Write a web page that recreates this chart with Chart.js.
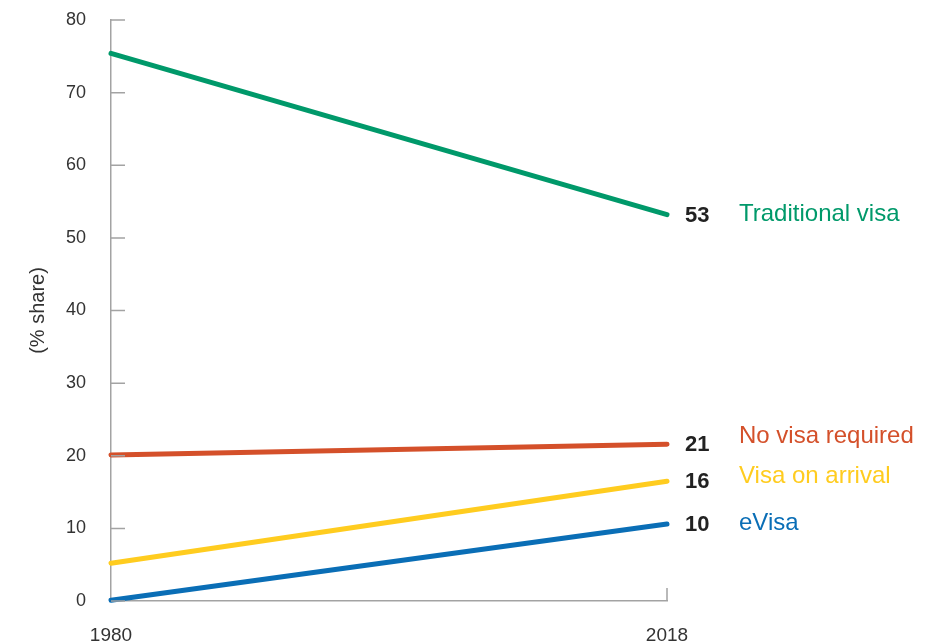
<!DOCTYPE html>
<html>
<head>
<meta charset="utf-8">
<script src="https://cdn.jsdelivr.net/npm/chart.js@4"></script>
<style>
  html, body { margin: 0; padding: 0; background: #ffffff; }
  #wrap { width: 937px; height: 643px; position: relative; }
</style>
</head>
<body>
<div id="wrap"><canvas id="c" width="937" height="643"></canvas></div>
<script>
// ---- data ----
const years = [1980, 2018];
const seriesNames = ["Traditional visa", "No visa required", "Visa on arrival", "eVisa"];
const traditionalVisa = [75.4, 53.2];
const noVisaRequired = [20.1, 21.6];
const visaOnArrival = [5.2, 16.5];
const eVisa = [0.1, 10.6];
const endLabels = ["53", "21", "16", "10"];
const yTicks = [0, 10, 20, 30, 40, 50, 60, 70, 80];

// ---- style ----
const colors = ["#00996A", "#D4502A", "#FFCC1F", "#0A6EB6"];
const nameOffsets = [0, -8, -5, -1];
const FONT = "'Liberation Sans', Arial, Helvetica, sans-serif";
const AXIS_COLOR = "#a3a3a3";

const seriesValues = [traditionalVisa, noVisaRequired, visaOnArrival, eVisa];

const datasets = seriesValues.map((vals, i) => ({
  label: seriesNames[i],
  data: years.map((y, j) => ({ x: y, y: vals[j] })),
  borderColor: colors[i],
  backgroundColor: colors[i],
  borderWidth: 5,
  borderCapStyle: 'round',
  pointRadius: 0,
  pointHoverRadius: 0,
  tension: 0,
  clip: false
}));

const tickMarks = {
  id: 'tickMarks',
  afterDraw(chart) {
    const ctx = chart.ctx;
    const ys = chart.scales.y, xs = chart.scales.x;
    const area = chart.chartArea;
    ctx.save();
    ctx.strokeStyle = AXIS_COLOR;
    ctx.lineWidth = 1.5;
    ctx.beginPath();
    yTicks.forEach(v => {
      const py = ys.getPixelForValue(v);
      ctx.moveTo(area.left, py);
      ctx.lineTo(area.left + 14, py);
    });
    const px = xs.getPixelForValue(years[years.length - 1]);
    ctx.moveTo(px, area.bottom);
    ctx.lineTo(px, area.bottom - 13);
    ctx.stroke();
    ctx.restore();
  }
};

const endLabelPlugin = {
  id: 'endLabels',
  afterDatasetsDraw(chart) {
    const ctx = chart.ctx;
    const ys = chart.scales.y;
    const area = chart.chartArea;
    ctx.save();
    ctx.textBaseline = 'middle';
    ctx.textAlign = 'left';
    seriesValues.forEach((vals, i) => {
      const py = ys.getPixelForValue(vals[vals.length - 1]);
      ctx.font = "bold 22px " + FONT;
      ctx.fillStyle = "#222222";
      ctx.fillText(endLabels[i], area.right + 18, py + 1);
      ctx.font = "24px " + FONT;
      ctx.fillStyle = colors[i];
      ctx.fillText(seriesNames[i], area.right + 72, py + nameOffsets[i]);
    });
    ctx.restore();
  }
};

new Chart(document.getElementById('c'), {
  type: 'line',
  data: { datasets },
  options: {
    responsive: false,
    animation: false,
    events: [],
    layout: { padding: { top: 20, right: 270, bottom: 0, left: 0 } },
    plugins: {
      legend: { display: false },
      tooltip: { enabled: false },
      title: { display: false }
    },
    scales: {
      x: {
        type: 'linear',
        min: years[0],
        max: years[years.length - 1],
        afterBuildTicks: s => { s.ticks = years.map(v => ({ value: v })); },
        afterFit: s => { s.height = 42; s.paddingLeft = 0; s.paddingRight = 0; },
        grid: { drawOnChartArea: false, drawTicks: false },
        border: { display: true, color: AXIS_COLOR, width: 1.5 },
        ticks: {
          padding: 23,
          color: "#333333",
          font: { family: FONT, size: 19 },
          callback: v => String(v),
          maxRotation: 0,
          autoSkip: false
        }
      },
      y: {
        min: 0,
        max: 80,
        afterBuildTicks: s => { s.ticks = yTicks.map(v => ({ value: v })); },
        afterFit: s => { s.width = 111; s.paddingTop = 0; s.paddingBottom = 0; },
        grid: { drawOnChartArea: false, drawTicks: false },
        border: { display: true, color: AXIS_COLOR, width: 1.5 },
        ticks: {
          padding: 25,
          color: "#333333",
          font: { family: FONT, size: 18 },
          callback: v => String(v)
        },
        title: {
          display: true,
          text: "(% share)",
          color: "#333333",
          font: { family: FONT, size: 20 },
          padding: { top: 26, bottom: 0 }
        }
      }
    }
  },
  plugins: [tickMarks, endLabelPlugin]
});
</script>
</body>
</html>
